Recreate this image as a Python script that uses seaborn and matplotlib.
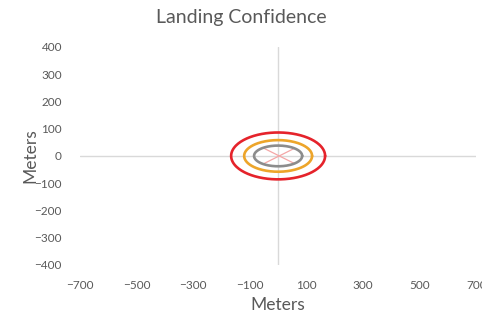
import matplotlib
matplotlib.use("Agg")
import matplotlib.pyplot as plt
import numpy as np
import pandas as pd
import seaborn as sns

# confidence ellipses (semi-axes in meters)
ring_names = ["inner", "middle", "outer"]
ring_x = [85, 120, 166]
ring_y = [38, 58, 86]
ring_colors = ["#8C8C8C", "#EDA52A", "#E5232B"]

# cross marks inside the inner ellipse
cross_x = [[-50, 58], [-50, 58]]
cross_y = [[-28, 28], [28, -28]]

x_ticks = [-700, -500, -300, -100, 100, 300, 500, 700]
y_ticks = [-400, -300, -200, -100, 0, 100, 200, 300, 400]

sns.set_theme(style="white")
plt.rcParams["font.family"] = ["Lato", "DejaVu Sans"]

fig = plt.figure(figsize=(4.82, 3.15), dpi=100)
ax = fig.add_axes([0.166, 0.159, 0.822, 0.692])

ax.axhline(0, color="#D9D9D9", lw=1, zorder=1)
ax.axvline(0, color="#D9D9D9", lw=1, zorder=1)

theta = np.linspace(0, 2 * np.pi, 200)
rows = []
for name, a, b in zip(ring_names, ring_x, ring_y):
    for t in theta:
        rows.append({"ring": name, "x": a * np.cos(t), "y": b * np.sin(t)})
df = pd.DataFrame(rows)
sns.lineplot(data=df, x="x", y="y", hue="ring", palette=dict(zip(ring_names, ring_colors)),
             sort=False, estimator=None, lw=1.9, legend=False, ax=ax, zorder=3)

for cx, cy in zip(cross_x, cross_y):
    ax.plot(cx, cy, color="#F4A6A6", lw=0.9, zorder=2)

ax.set_xlim(-700, 700)
ax.set_ylim(-400, 400)
ax.set_xticks(x_ticks)
ax.set_yticks(y_ticks)
for s in ax.spines.values():
    s.set_visible(False)
ax.tick_params(length=0, labelsize=8.5, labelcolor="#595959", pad=13)
ax.tick_params(axis="x", pad=11)

ax.set_xlabel("Meters", fontsize=12.5, color="#595959")
ax.set_ylabel("Meters", fontsize=12.5, color="#595959")
ax.xaxis.set_label_coords(0.5, -0.145)
ax.yaxis.set_label_coords(-0.106, 0.5)
fig.suptitle("Landing Confidence", fontsize=14, color="#595959", y=0.97)

fig.savefig("out.png", dpi=100)
